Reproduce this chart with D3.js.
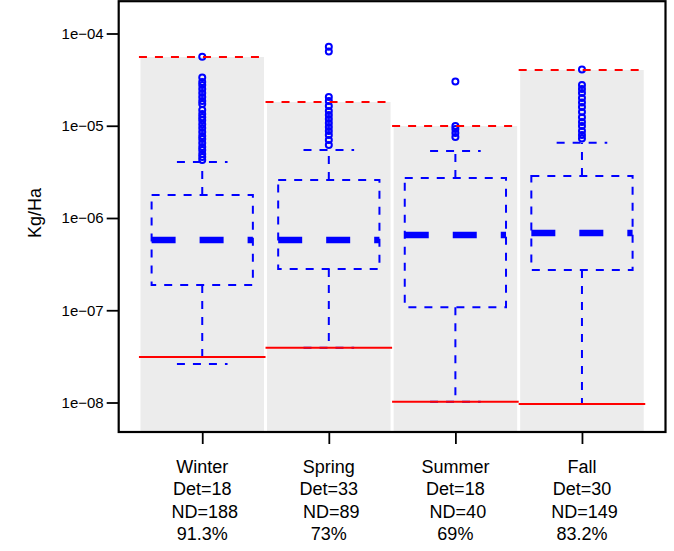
<!DOCTYPE html>
<html>
<head>
<meta charset="utf-8">
<script src="https://cdn.jsdelivr.net/npm/d3@7"></script>
<style>
  html, body { margin: 0; padding: 0; background: #ffffff; }
  svg { display: block; }
  text { font-family: "Liberation Sans", Arial, Helvetica, sans-serif; fill: #000; }
</style>
</head>
<body>
<div id="chart"></div>
<script>
// ---------------- data ----------------
const seasons = ["Winter", "Spring", "Summer", "Fall"];
const detCounts = [18, 33, 18, 30];
const ndCounts = [188, 89, 40, 149];
const pctCensored = ["91.3%", "73%", "69%", "83.2%"];

const upperWhisker = [4.05e-6, 5.46e-6, 5.32e-6, 6.55e-6];
const quartile3 = [1.78e-6, 2.58e-6, 2.71e-6, 2.85e-6];
const medians = [5.78e-7, 5.78e-7, 6.54e-7, 6.88e-7];
const quartile1 = [1.88e-7, 2.80e-7, 1.08e-7, 2.73e-7];
const lowerWhisker = [2.61e-8, 3.93e-8, 1.02e-8, 9.63e-9];

// red solid line (max detection limit) and red dashed line (max value / shaded top)
const detectionLimit = [3.11e-8, 3.93e-8, 1.02e-8, 9.63e-9];
const maxValue = [5.56e-5, 1.81e-5, 9.93e-6, 4.02e-5];

const outliersWinter = [5.61e-5, 3.33e-5, 2.98e-5, 2.76e-5, 2.50e-5, 2.26e-5, 2.05e-5, 1.85e-5,
  1.72e-5, 1.48e-5, 1.34e-5, 1.24e-5, 1.15e-5, 1.04e-5, 9.45e-6, 8.56e-6, 7.74e-6, 7.18e-6,
  6.50e-6, 5.88e-6, 5.46e-6, 4.94e-6, 4.58e-6, 4.25e-6];
const outliersSpring = [7.19e-5, 6.38e-5, 2.05e-5, 1.85e-5, 1.64e-5, 1.445e-5, 1.31e-5, 1.18e-5,
  1.07e-5, 9.69e-6, 8.77e-6, 7.94e-6, 7.01e-6, 6.18e-6];
const outliersSummer = [3.02e-5, 9.94e-6, 9.22e-6, 8.34e-6, 7.55e-6];
const outliersFall = [4.07e-5, 2.76e-5, 2.50e-5, 2.26e-5, 2.0e-5, 1.79e-5, 1.60e-5, 1.41e-5,
  1.24e-5, 1.10e-5, 9.94e-6, 8.77e-6, 7.94e-6, 7.27e-6];
const outliers = [outliersWinter, outliersSpring, outliersSummer, outliersFall];

const yTickValues = [1e-8, 1e-7, 1e-6, 1e-5, 1e-4];
const yTickLabels = ["1e\u221208", "1e\u221207", "1e\u221206", "1e\u221205", "1e\u221204"];
const yAxisTitle = "Kg/Ha";

// ---------------- layout ----------------
const W = 674, H = 551;
const plotL = 118.7, plotR = 665.5, plotT = 1.2, plotB = 432;

const svg = d3.select("#chart").append("svg")
  .attr("width", W).attr("height", H);

const x = d3.scaleLinear().domain([0.34, 4.66]).range([plotL, plotR]);
const y = d3.scaleLog().domain([1e-8, 1e-4]).range([402.5, 33.5]);

const blue = "#0000ff", red = "#ff0000", gray = "#ececec";
const idx = d3.range(seasons.length);
const pos = i => x(i + 1);

// shaded regions
svg.append("g").selectAll("rect").data(idx).join("rect")
  .attr("x", i => x(i + 1 - 0.488))
  .attr("width", x(1.488) - x(0.512))
  .attr("y", i => y(maxValue[i]))
  .attr("height", i => plotB - y(maxValue[i]))
  .attr("fill", gray);

const g = svg.append("g").attr("fill", "none").attr("stroke", blue);

// whiskers
g.selectAll("line.wu").data(idx).join("line").attr("class", "wu")
  .attr("x1", pos).attr("x2", pos)
  .attr("y1", i => y(quartile3[i])).attr("y2", i => y(upperWhisker[i]))
  .attr("stroke-width", 2).attr("stroke-dasharray", "8,8");
g.selectAll("line.wl").data(idx).join("line").attr("class", "wl")
  .attr("x1", pos).attr("x2", pos)
  .attr("y1", i => y(quartile1[i])).attr("y2", i => y(lowerWhisker[i]))
  .attr("stroke-width", 2).attr("stroke-dasharray", "8,8");
// caps
g.selectAll("line.cu").data(idx).join("line").attr("class", "cu")
  .attr("x1", i => x(i + 1 - 0.2)).attr("x2", i => x(i + 1 + 0.2))
  .attr("y1", i => y(upperWhisker[i])).attr("y2", i => y(upperWhisker[i]))
  .attr("stroke-width", 2).attr("stroke-dasharray", "8,8");
g.selectAll("line.cl").data(idx).join("line").attr("class", "cl")
  .attr("x1", i => x(i + 1 - 0.2)).attr("x2", i => x(i + 1 + 0.2))
  .attr("y1", i => y(lowerWhisker[i])).attr("y2", i => y(lowerWhisker[i]))
  .attr("stroke-width", 2).attr("stroke-dasharray", "8,8");
// boxes
g.selectAll("rect.box").data(idx).join("rect").attr("class", "box")
  .attr("x", i => x(i + 1 - 0.4)).attr("width", x(1.4) - x(0.6))
  .attr("y", i => y(quartile3[i]))
  .attr("height", i => y(quartile1[i]) - y(quartile3[i]))
  .attr("stroke-width", 2).attr("stroke-dasharray", "8,8");
// medians
g.selectAll("line.med").data(idx).join("line").attr("class", "med")
  .attr("x1", i => x(i + 1 - 0.4)).attr("x2", i => x(i + 1 + 0.4))
  .attr("y1", i => y(medians[i])).attr("y2", i => y(medians[i]))
  .attr("stroke-width", 6.5).attr("stroke-dasharray", "24,24");
// outliers
idx.forEach(i => {
  g.append("g").selectAll("circle").data(outliers[i]).join("circle")
    .attr("cx", pos(i)).attr("cy", d => y(d)).attr("r", 3)
    .attr("stroke-width", 2);
});

// red lines
const rg = svg.append("g").attr("stroke", red).attr("stroke-width", 2);
rg.selectAll("line.dl").data(idx).join("line").attr("class", "dl")
  .attr("x1", i => x(i + 1 - 0.5)).attr("x2", i => x(i + 1 + 0.5))
  .attr("y1", i => y(detectionLimit[i])).attr("y2", i => y(detectionLimit[i]));
rg.selectAll("line.mx").data(idx).join("line").attr("class", "mx")
  .attr("x1", i => x(i + 1 - 0.5)).attr("x2", i => x(i + 1 + 0.5))
  .attr("y1", i => y(maxValue[i])).attr("y2", i => y(maxValue[i]))
  .attr("stroke-dasharray", "8,8");

// frame
svg.append("rect")
  .attr("x", plotL).attr("y", plotT)
  .attr("width", plotR - plotL).attr("height", plotB - plotT)
  .attr("fill", "none").attr("stroke", "#000").attr("stroke-width", 2.2);

// y axis
const yAxis = d3.axisLeft(y).tickValues(yTickValues)
  .tickFormat((d, i) => yTickLabels[i]).tickSize(12).tickPadding(3);
const ya = svg.append("g").attr("transform", `translate(${plotL},0)`).call(yAxis);
ya.select(".domain").remove();
ya.selectAll(".tick line").attr("stroke", "#000").attr("stroke-width", 1.8);
ya.selectAll(".tick text").attr("font-size", 15).attr("fill", "#000")
  .attr("font-family", "Liberation Sans, Arial, sans-serif");

// x axis ticks
const xAxis = d3.axisBottom(x).tickValues(idx.map(i => i + 1)).tickFormat("").tickSize(12);
const xa = svg.append("g").attr("transform", `translate(0,${plotB})`).call(xAxis);
xa.select(".domain").remove();
xa.selectAll(".tick line").attr("stroke", "#000").attr("stroke-width", 1.8);

// x labels (multi-line)
const lab = svg.append("g").attr("font-size", 18).attr("text-anchor", "middle");
idx.forEach(i => {
  const lines = [seasons[i], "Det=" + detCounts[i], "ND=" + ndCounts[i], pctCensored[i]];
  lines.forEach((s, k) => {
    lab.append("text")
      .attr("x", pos(i) + (k === 2 ? 2.5 : 0))
      .attr("y", 472.5 + k * 22.6)
      .text(s);
  });
});

// y title
svg.append("text")
  .attr("transform", `translate(40.5,213) rotate(-90)`)
  .attr("text-anchor", "middle").attr("font-size", 18)
  .text(yAxisTitle);
</script>
</body>
</html>
